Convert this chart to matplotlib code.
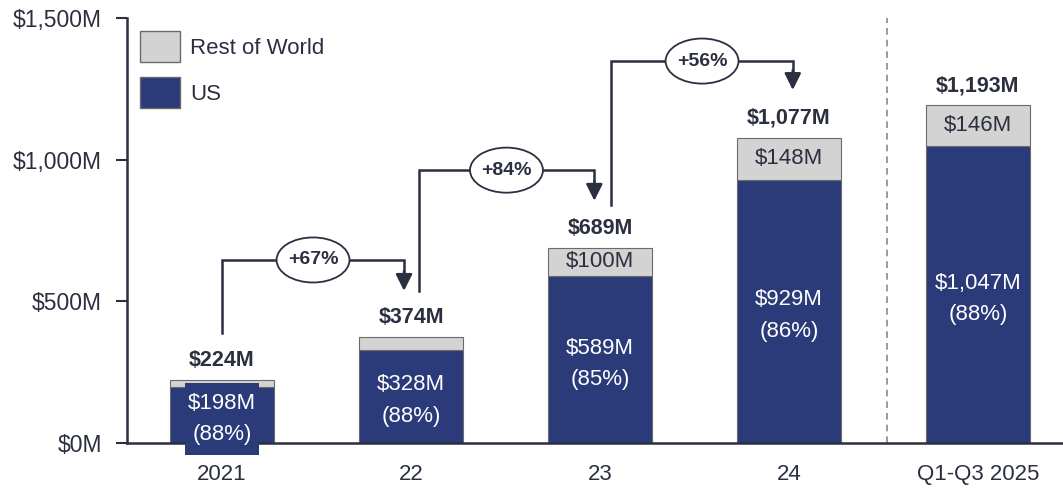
import matplotlib
matplotlib.use("Agg")
import matplotlib.pyplot as plt
from matplotlib.patches import Patch, Ellipse, Rectangle

plt.rcParams['font.family'] = ['Liberation Sans', 'DejaVu Sans']

categories = ["2021", "22", "23", "24", "Q1-Q3 2025"]
us = [198, 328, 589, 929, 1047]
row = [26, 46, 100, 148, 146]
totals = [224, 374, 689, 1077, 1193]
us_pct = ["88%", "88%", "85%", "86%", "88%"]
growth = ["+67%", "+84%", "+56%"]
yticks = [0, 500, 1000, 1500]
ytick_labels = ["$0M", "$500M", "$1,000M", "$1,500M"]

NAVY = "#2B3A78"
GRAY = "#D3D3D3"
DARK = "#2B2F3F"
FS = 16

fig = plt.figure(figsize=(10.63, 4.91), dpi=100)
ax = fig.add_axes([127/1063, 1-443/491, 1-127/1063, 425/491])

x = list(range(len(categories)))
w = 0.555
ax.bar(x, us, width=w, color=NAVY, edgecolor="#6b6b6b", linewidth=0.8, zorder=2)
ax.bar(x, row, bottom=us, width=w, color=GRAY, edgecolor="#6b6b6b", linewidth=0.8, zorder=2)

ax.set_xlim(-0.503, 4.45)
ax.set_ylim(0, 1500)
ax.set_yticks(yticks)
ax.set_yticklabels(ytick_labels, fontsize=FS + 0.5, color=DARK)
ax.set_xticks(x)
ax.set_xticklabels(categories, fontsize=FS, color=DARK)
ax.tick_params(axis='x', length=0, pad=15)
ax.tick_params(axis='y', length=8, width=1.5, color=DARK, pad=10)
for s in ["top", "right"]:
    ax.spines[s].set_visible(False)
for s in ["left", "bottom"]:
    ax.spines[s].set_color(DARK)
    ax.spines[s].set_linewidth(1.8)

# highlight box behind first bar's label
ax.add_patch(Rectangle((-0.196, -42), 0.392, 254, facecolor=NAVY, edgecolor="none",
                       clip_on=False, zorder=4))

# labels
for i in range(len(categories)):
    ax.annotate(f"${us[i]:,}M\n({us_pct[i]})", xy=(i, us[i] / 2), xytext=(0, -3),
                textcoords="offset points", ha="center", va="center",
                fontsize=FS, color="white", linespacing=1.65, zorder=5)
    if i >= 2:
        ax.text(i, us[i] + row[i] / 2, f"${row[i]:,}M", ha="center", va="center",
                fontsize=FS, color=DARK, zorder=5)
    ax.annotate(f"${totals[i]:,}M", xy=(i, totals[i]), xytext=(0, 14),
                textcoords="offset points", ha="center", va="center",
                fontsize=FS - 0.5, fontweight="bold", color=DARK)

# separator
ax.plot([3.52, 3.52], [0, 1500], ls=(0, (4, 3)), color="#8a8a8a", lw=1.2, zorder=1)

# growth connectors: (x_start, y_start, y_top, x_end, y_tip)
conns = [
    (0.0, 388, 646, 0.963, 537),
    (1.04, 537, 963, 1.97, 855),
    (2.06, 840, 1348, 3.02, 1246),
]
for (xs, ys, yt, xe, ytip), g in zip(conns, growth):
    ax.plot([xs, xs, xe, xe], [ys, yt, yt, ytip + 40], color=DARK, lw=1.8, zorder=3,
            solid_joinstyle="miter")
    ax.annotate("", xy=(xe, ytip), xytext=(xe, ytip + 70),
                arrowprops=dict(arrowstyle="-|>,head_length=1.0,head_width=0.5",
                                color=DARK, lw=1.8, shrinkA=0, shrinkB=0), zorder=4)
    xm = (xs + xe) / 2
    ax.add_patch(Ellipse((xm, yt), 0.386, 159, facecolor="white", edgecolor=DARK,
                         lw=1.3, zorder=6))
    ax.text(xm, yt, g, ha="center", va="center", fontsize=FS - 2,
            fontweight="bold", color=DARK, zorder=7)

handles = [Patch(facecolor=GRAY, edgecolor="#6b6b6b", label="Rest of World"),
           Patch(facecolor=NAVY, edgecolor="#6b6b6b", label="US")]
leg = ax.legend(handles=handles, loc="upper left", bbox_to_anchor=(0.0045, 0.99),
                frameon=False, fontsize=FS, handlelength=1.8, handleheight=1.75,
                labelspacing=0.69, handletextpad=0.45, borderaxespad=0.0)
for t in leg.get_texts():
    t.set_color(DARK)

fig.savefig("out.png", dpi=100)
